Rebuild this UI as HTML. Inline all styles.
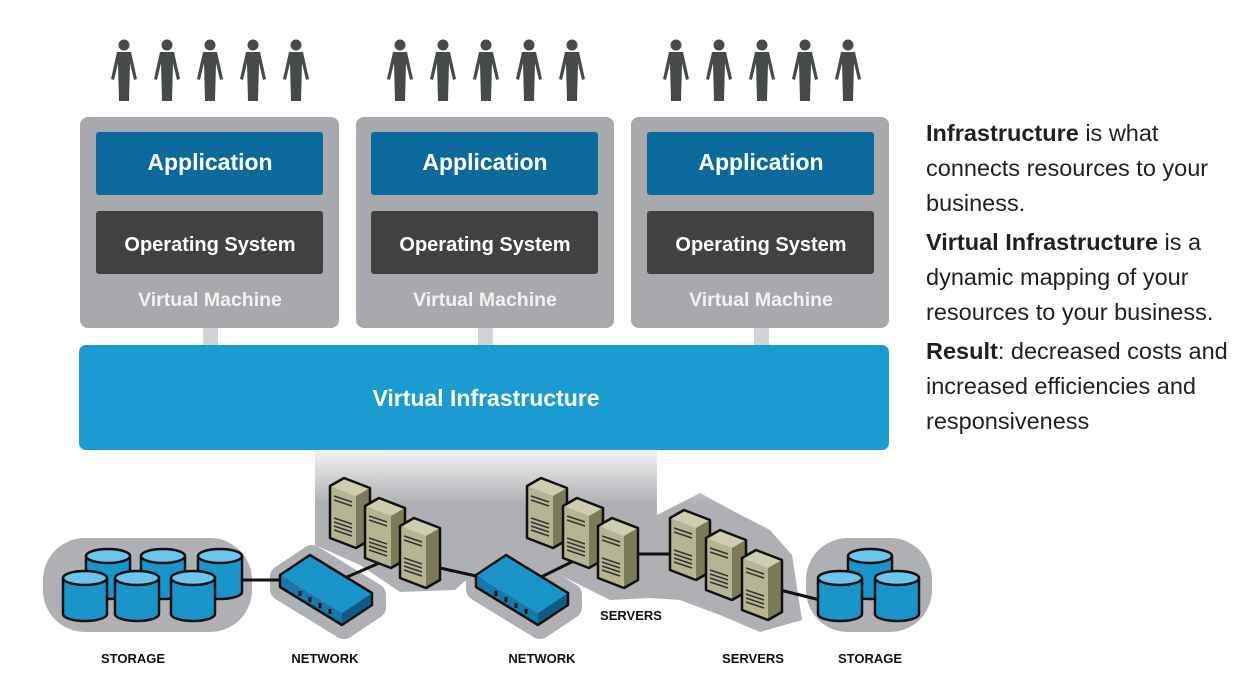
<!DOCTYPE html>
<html><head><meta charset="utf-8"><style>
body{margin:0;background:#fff;width:1252px;height:696px;overflow:hidden;font-family:"Liberation Sans",sans-serif}
.t{position:absolute;left:926px;top:116px;font-size:23.5px;line-height:35px;color:#231f20;width:330px}
.t p{margin:0 0 4px 0}
</style></head><body>
<svg width="1252" height="696" style="position:absolute;left:0;top:0" font-family="Liberation Sans, sans-serif">
<defs>
<symbol id="p" viewBox="0 0 30 64" width="30" height="64">
<circle cx="15" cy="6" r="5.5" fill="#474a4a"/>
<path d="M8 13 L22 13 L28 40 L25 41 L21 24 L20 62 L10 62 L9 24 L5 41 L2 40 Z" fill="#474a4a"/>
</symbol>
<linearGradient id="gg" x1="0" y1="0" x2="0" y2="1"><stop offset="0" stop-color="#f2f2f3"/><stop offset="0.3" stop-color="#aeb0b3"/><stop offset="1" stop-color="#aeb0b3"/></linearGradient>
<g id="srv">
<polygon points="0,8 14,0 40,10 26,18" fill="#cfcdb0"/>
<polygon points="0,8 26,18 26,70 0,60" fill="#b6b493"/>
<polygon points="26,18 40,10 40,62 26,70" fill="#7c7a58"/>
<polygon points="0,8 14,0 40,10 40,62 26,70 0,60" fill="none" stroke="#111" stroke-width="2.5" stroke-linejoin="round"/>
<path d="M4 18 L22 24 M4 22 L22 28 M4 40 L22 46 M4 44 L22 50 M4 48 L22 54 M4 52 L22 58" stroke="#333" stroke-width="1.5"/>
</g>
<g id="sw">
<polygon points="0,20 30,0 92,38 62,58" fill="#1a95c9"/>
<polygon points="0,20 62,58 62,70 0,32" fill="#1679aa"/>
<polygon points="62,58 92,38 92,50 62,70" fill="#0e5c86"/>
<polygon points="0,20 30,0 92,38 92,50 62,70 0,32" fill="none" stroke="#111" stroke-width="2.5" stroke-linejoin="round"/>
<path d="M20 36 v5 M30 42 v5 M40 48 v5 M50 54 v5" stroke="#111" stroke-width="3"/>
</g>
<g id="cyl">
<path d="M-22 0 v36 a22 7 0 0 0 44 0 v-36" fill="#1a95c9" stroke="#111" stroke-width="2.5"/>
<ellipse cx="0" cy="0" rx="22" ry="7" fill="#6cc5ec" stroke="#111" stroke-width="2.5"/>
</g>
</defs>
<g>
<use href="#p" x="109" y="39"/><use href="#p" x="152" y="39"/><use href="#p" x="195" y="39"/><use href="#p" x="238" y="39"/><use href="#p" x="281" y="39"/>
<use href="#p" x="385" y="39"/><use href="#p" x="428" y="39"/><use href="#p" x="471" y="39"/><use href="#p" x="514" y="39"/><use href="#p" x="557" y="39"/>
<use href="#p" x="661" y="39"/><use href="#p" x="704" y="39"/><use href="#p" x="747" y="39"/><use href="#p" x="790" y="39"/><use href="#p" x="833" y="39"/>
</g>
<g font-weight="bold" text-anchor="middle" fill="#fff">
<rect x="203" y="326" width="15" height="22" fill="#d1d3d4"/><rect x="478" y="326" width="15" height="22" fill="#d1d3d4"/><rect x="754" y="326" width="15" height="22" fill="#d1d3d4"/>
<rect x="80" y="117" width="259" height="211" rx="8" fill="#a7a9ac"/>
<rect x="356" y="117" width="258" height="211" rx="8" fill="#a7a9ac"/>
<rect x="631" y="117" width="258" height="211" rx="8" fill="#a7a9ac"/>
<rect x="96" y="132" width="227" height="63" rx="3" fill="#0b6a9b"/>
<rect x="371" y="132" width="227" height="63" rx="3" fill="#0b6a9b"/>
<rect x="647" y="132" width="227" height="63" rx="3" fill="#0b6a9b"/>
<rect x="96" y="211" width="227" height="63" rx="3" fill="#404242"/>
<rect x="371" y="211" width="227" height="63" rx="3" fill="#404242"/>
<rect x="647" y="211" width="227" height="63" rx="3" fill="#404242"/>
<text x="210" y="170" font-size="23">Application</text><text x="485" y="170" font-size="23">Application</text><text x="761" y="170" font-size="23">Application</text>
<text x="210" y="251" font-size="20">Operating System</text><text x="485" y="251" font-size="20">Operating System</text><text x="761" y="251" font-size="20">Operating System</text>
<text x="210" y="306" font-size="19.5" fill="#f1f2f2">Virtual Machine</text><text x="485" y="306" font-size="19.5" fill="#f1f2f2">Virtual Machine</text><text x="761" y="306" font-size="19.5" fill="#f1f2f2">Virtual Machine</text>
<rect x="79" y="345" width="810" height="105" rx="7" fill="#1a9bd1"/>
<text x="486" y="406" font-size="23">Virtual Infrastructure</text>
</g>
<path d="M315 450 H657 V515 L700 493 L735 512 L770 530 L792 555 L802 620 L760 632 L720 615 L680 600 L650 598 L610 600 L580 585 L560 575 L520 560 L500 550 L455 590 L400 592 L360 565 L315 545 Z" fill="url(#gg)"/>
<g fill="#aeb0b3" stroke="#aeb0b3" stroke-width="24" stroke-linejoin="round">
<rect x="55" y="550" width="185" height="70" rx="30"/>
<polygon points="282,577 312,557 374,595 374,607 344,627 282,589"/>
<polygon points="478,577 508,557 570,595 570,607 540,627 478,589"/>
<rect x="818" y="550" width="102" height="70" rx="30"/>
</g>
<g stroke="#111" stroke-width="3">
<line x1="240" y1="580" x2="290" y2="580"/><line x1="340" y1="580" x2="405" y2="552"/>
<line x1="440" y1="568" x2="485" y2="578"/><line x1="535" y1="580" x2="600" y2="548"/>
<line x1="636" y1="554" x2="675" y2="554"/><line x1="780" y1="590" x2="820" y2="600"/>
</g>
<use href="#cyl" x="108" y="556"/><use href="#cyl" x="163" y="556"/><use href="#cyl" x="220" y="556"/>
<use href="#cyl" x="85" y="578"/><use href="#cyl" x="137" y="578"/><use href="#cyl" x="193" y="578"/>
<use href="#cyl" x="870" y="556"/><use href="#cyl" x="840" y="578"/><use href="#cyl" x="897" y="578"/>
<use href="#sw" x="280" y="555"/><use href="#sw" x="476" y="555"/>
<use href="#srv" x="330" y="478"/><use href="#srv" x="365" y="498"/><use href="#srv" x="400" y="518"/>
<use href="#srv" x="527" y="478"/><use href="#srv" x="563" y="498"/><use href="#srv" x="598" y="518"/>
<use href="#srv" x="670" y="510"/><use href="#srv" x="706" y="530"/><use href="#srv" x="742" y="550"/>
<g font-size="13" font-weight="bold" fill="#111" text-anchor="middle">
<text x="133" y="663">STORAGE</text><text x="325" y="663">NETWORK</text><text x="542" y="663">NETWORK</text>
<text x="753" y="663">SERVERS</text><text x="870" y="663">STORAGE</text><text x="631" y="620">SERVERS</text>
</g>
</svg>
<div class="t">
<p><b>Infrastructure</b> is what connects resources to your business.</p>
<p><b>Virtual Infrastructure</b> is a dynamic mapping of your resources to your business.</p>
<p><b>Result</b>: decreased costs and increased efficiencies and responsiveness</p>
</div>
</body></html>
